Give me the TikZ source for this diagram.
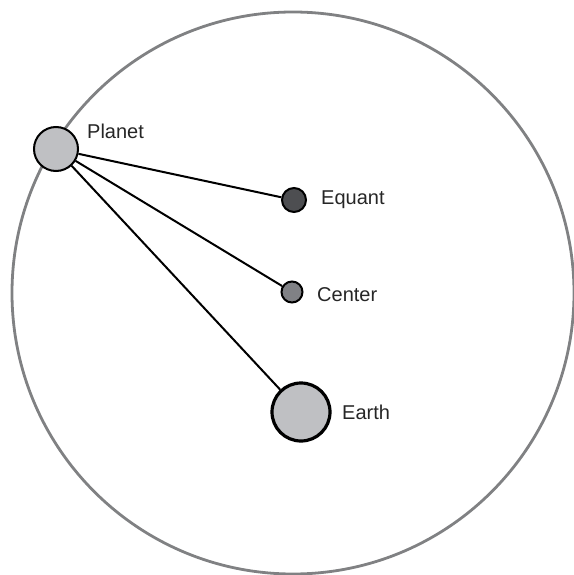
\documentclass[tikz,border=0pt]{standalone}
\usepackage{fontspec}
\setmainfont{Liberation Sans}
\usetikzlibrary{positioning}
\definecolor{Orbit}{HTML}{808183}
\definecolor{LightBody}{HTML}{BFC0C3}
\definecolor{DarkBody}{HTML}{4D4E51}
\definecolor{MidBody}{HTML}{808185}

\begin{document}
\begin{tikzpicture}[x=1pt,y=-1pt,
  body/.style={circle,draw=black,line width=2pt,inner sep=0pt},
  label/.style={font=\fontsize{20}{24}\selectfont,text=black!85,anchor=west,inner sep=0pt},
  link/.style={line width=2pt,black}]
  \useasboundingbox (0,0) rectangle (573,575);
  \draw[Orbit,line width=2.8pt] (293,293) circle (281);

  \node[body,fill=LightBody,minimum size=44pt] (planet) at (56,149) {};
  \node[body,fill=DarkBody,minimum size=24pt] (equant) at (294,200) {};
  \node[body,fill=MidBody,minimum size=21pt] (center) at (292,292) {};
  \node[body,fill=LightBody,minimum size=58pt,line width=3.2pt] (earth) at (301,412) {};

  \node[label] (planetlbl) at (87,131) {Planet};
  \node[label] (equantlbl) at (321,200) {Equant};
  \node[label] (centerlbl) at (317,295) {Center};
  \node[label] (earthlbl) at (342,412) {Earth};

  \draw[link] (planet) -- (equant);
  \draw[link] (planet) -- (center);
  \draw[link] (planet) -- (earth);
\end{tikzpicture}
\end{document}
